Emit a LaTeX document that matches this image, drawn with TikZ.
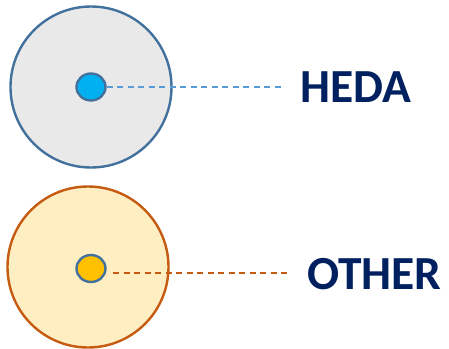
\documentclass[tikz,border=0pt]{standalone}
\usepackage{fontspec}
\setmainfont{Carlito}
\usetikzlibrary{shapes.geometric}
\definecolor{ringblue}{HTML}{41719C}
\definecolor{graybg}{HTML}{E9E9E9}
\definecolor{cyanc}{HTML}{00B0F0}
\definecolor{dashblue}{HTML}{5B9BD5}
\definecolor{navy}{HTML}{002060}
\definecolor{orangeedge}{HTML}{C55A11}
\definecolor{creambg}{HTML}{FFEEC2}
\definecolor{goldc}{HTML}{FFC000}
\begin{document}
\begin{tikzpicture}[x=1pt,y=-1pt,
  bigdisc/.style={circle,minimum size=161pt,inner sep=0pt,line width=2.4pt},
  core/.style={ellipse,minimum width=29pt,minimum height=27pt,inner sep=0pt,draw=ringblue,line width=2.4pt},
  lead/.style={dashed,dash pattern=on 6pt off 4.5pt,line width=1.5pt},
  tag/.style={font=\bfseries\fontsize{47.5}{50}\selectfont,text=navy,inner sep=0pt,anchor=base west}]
\useasboundingbox (0,0) rectangle (449,348);
\node[bigdisc,draw=ringblue,fill=graybg] (top) at (91,87) {};
\node[core,fill=cyanc] (topcore) at (91,87) {};
\coordinate (topend) at (282,87);
\draw[lead,draw=dashblue] (topcore.east) -- (topend);
\node[tag] (heda) at (300,102) {HEDA};
\node[bigdisc,draw=orangeedge,fill=creambg] (bot) at (88,267) {};
\node[core,fill=goldc] (botcore) at (91,268.5) {};
\coordinate (botstart) at (113,273);
\coordinate (botend) at (290,273);
\draw[lead,draw=orangeedge] (botstart) -- (botend);
\node[tag] (other) at (307,289) {OTHER};
\end{tikzpicture}
\end{document}
